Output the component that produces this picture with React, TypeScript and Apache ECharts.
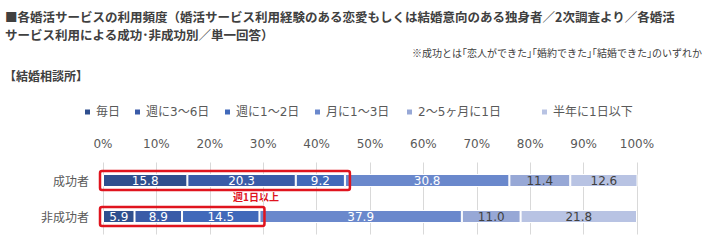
import React, { useEffect, useRef } from "react";
import * as echarts from "echarts";

const categories = ["成功者", "非成功者"];
const seriesNames = ["毎日", "週に3～6日", "週に1～2日", "月に1～3日", "2～5ヶ月に1日", "半年に1日以下"];
const daily = [15.8, 5.9];
const week3to6 = [20.3, 8.9];
const week1to2 = [9.2, 14.5];
const month1to3 = [30.8, 37.9];
const months2to5 = [11.4, 11.0];
const halfYear = [12.6, 21.8];
const seriesValues = [daily, week3to6, week1to2, month1to3, months2to5, halfYear];
const xTicks = [0, 10, 20, 30, 40, 50, 60, 70, 80, 90, 100];

const colors = ["#2F4F8E", "#3A5BA8", "#4169BA", "#6A88CC", "#97A8D6", "#B8C3E3"];
const labelColors = ["#FFFFFF", "#FFFFFF", "#FFFFFF", "#FFFFFF", "#404040", "#404040"];
const legendLefts = [83, 133, 223, 313, 405, 540];

const JP = "'Noto Sans CJK JP', sans-serif";
const NUM = "'DejaVu Sans', 'Noto Sans CJK JP', sans-serif";

export default function App() {
  const ref = useRef<HTMLDivElement>(null);
  useEffect(() => {
    if (!ref.current) return;
    const chart = echarts.init(ref.current, null, { renderer: "svg" });
    const weeklySums = categories.map((_, i) => [
      +(daily[i] + week3to6[i] + week1to2[i]).toFixed(1),
      i,
    ]);
    const barSeries = seriesNames.map((name, si) => ({
      name,
      type: "bar",
      stack: "total",
      barWidth: 13,
      data: seriesValues[si],
      itemStyle: { color: colors[si], borderColor: "#FFFFFF", borderWidth: 1 },
      label: {
        show: true,
        position: "inside",
        formatter: (p: any) => Number(p.value).toFixed(1),
        color: labelColors[si],
        fontSize: 12,
        fontFamily: NUM,
      },
    }));
    const option: any = {
      animation: false,
      graphic: [
        {
          type: "text",
          left: 5,
          top: 7,
          style: {
            text: "■各婚活サービスの利用頻度（婚活サービス利用経験のある恋愛もしくは結婚意向のある独身者／2次調査より／各婚活\nサービス利用による成功･非成功別／単一回答）",
            fontFamily: JP,
            fontWeight: "bold",
            fontSize: 12.5,
            lineHeight: 18,
            fill: "#404040",
          },
        },
        {
          type: "text",
          right: 8,
          top: 47,
          style: {
            text: "※成功とは｢恋人ができた｣｢婚約できた｣｢結婚できた｣のいずれか",
            fontFamily: JP,
            fontSize: 10,
            fill: "#404040",
          },
        },
        {
          type: "text",
          left: 4,
          top: 69,
          style: {
            text: "【結婚相談所】",
            fontFamily: JP,
            fontWeight: "bold",
            fontSize: 12,
            fill: "#404040",
          },
        },
        {
          type: "text",
          left: 233,
          top: 191,
          style: {
            text: "週1日以上",
            fontFamily: JP,
            fontWeight: "bold",
            fontSize: 10,
            fill: "#E0141E",
          },
        },
      ],
      legend: seriesNames.map((name, i) => ({
        data: [name],
        left: legendLefts[i],
        top: 106,
        icon: "rect",
        itemWidth: 7,
        itemHeight: 7,
        padding: 0,
        selectedMode: false,
        textStyle: { fontSize: 12, color: "#595959", fontFamily: NUM },
      })),
      grid: { left: 103, right: 73, top: 162.5, height: 72, containLabel: false },
      xAxis: {
        type: "value",
        position: "top",
        min: xTicks[0],
        max: xTicks[xTicks.length - 1],
        interval: xTicks[1] - xTicks[0],
        axisLine: { show: false },
        axisTick: { show: false },
        axisLabel: {
          formatter: "{value}%",
          fontSize: 12,
          color: "#595959",
          fontFamily: NUM,
          margin: 13,
        },
        splitLine: { lineStyle: { color: "#D9D9D9", width: 1 } },
      },
      yAxis: {
        type: "category",
        data: categories,
        inverse: true,
        axisLine: { show: false },
        axisTick: { show: false },
        axisLabel: { fontSize: 12, color: "#595959", fontFamily: JP, margin: 14 },
      },
      series: [
        ...barSeries,
        {
          type: "custom",
          name: "週1日以上",
          data: weeklySums,
          encode: { x: 0, y: 1 },
          z: 10,
          silent: true,
          renderItem: (params: any, api: any) => {
            const cat = api.value(1);
            const p0 = api.coord([0, cat]);
            const p1 = api.coord([api.value(0), cat]);
            return {
              type: "rect",
              shape: { x: p0[0] - 3, y: p0[1] - 9.5, width: p1[0] - p0[0] + 8, height: 19, r: 2 },
              style: { fill: "none", stroke: "#E0141E", lineWidth: 2.5 },
            };
          },
        },
      ],
    };
    chart.setOption(option);
    return () => chart.dispose();
  }, []);
  return (
    <div
      ref={ref}
      style={{ position: "fixed", left: 0, top: 0, width: 710, height: 248, background: "#FFFFFF" }}
    />
  );
}
